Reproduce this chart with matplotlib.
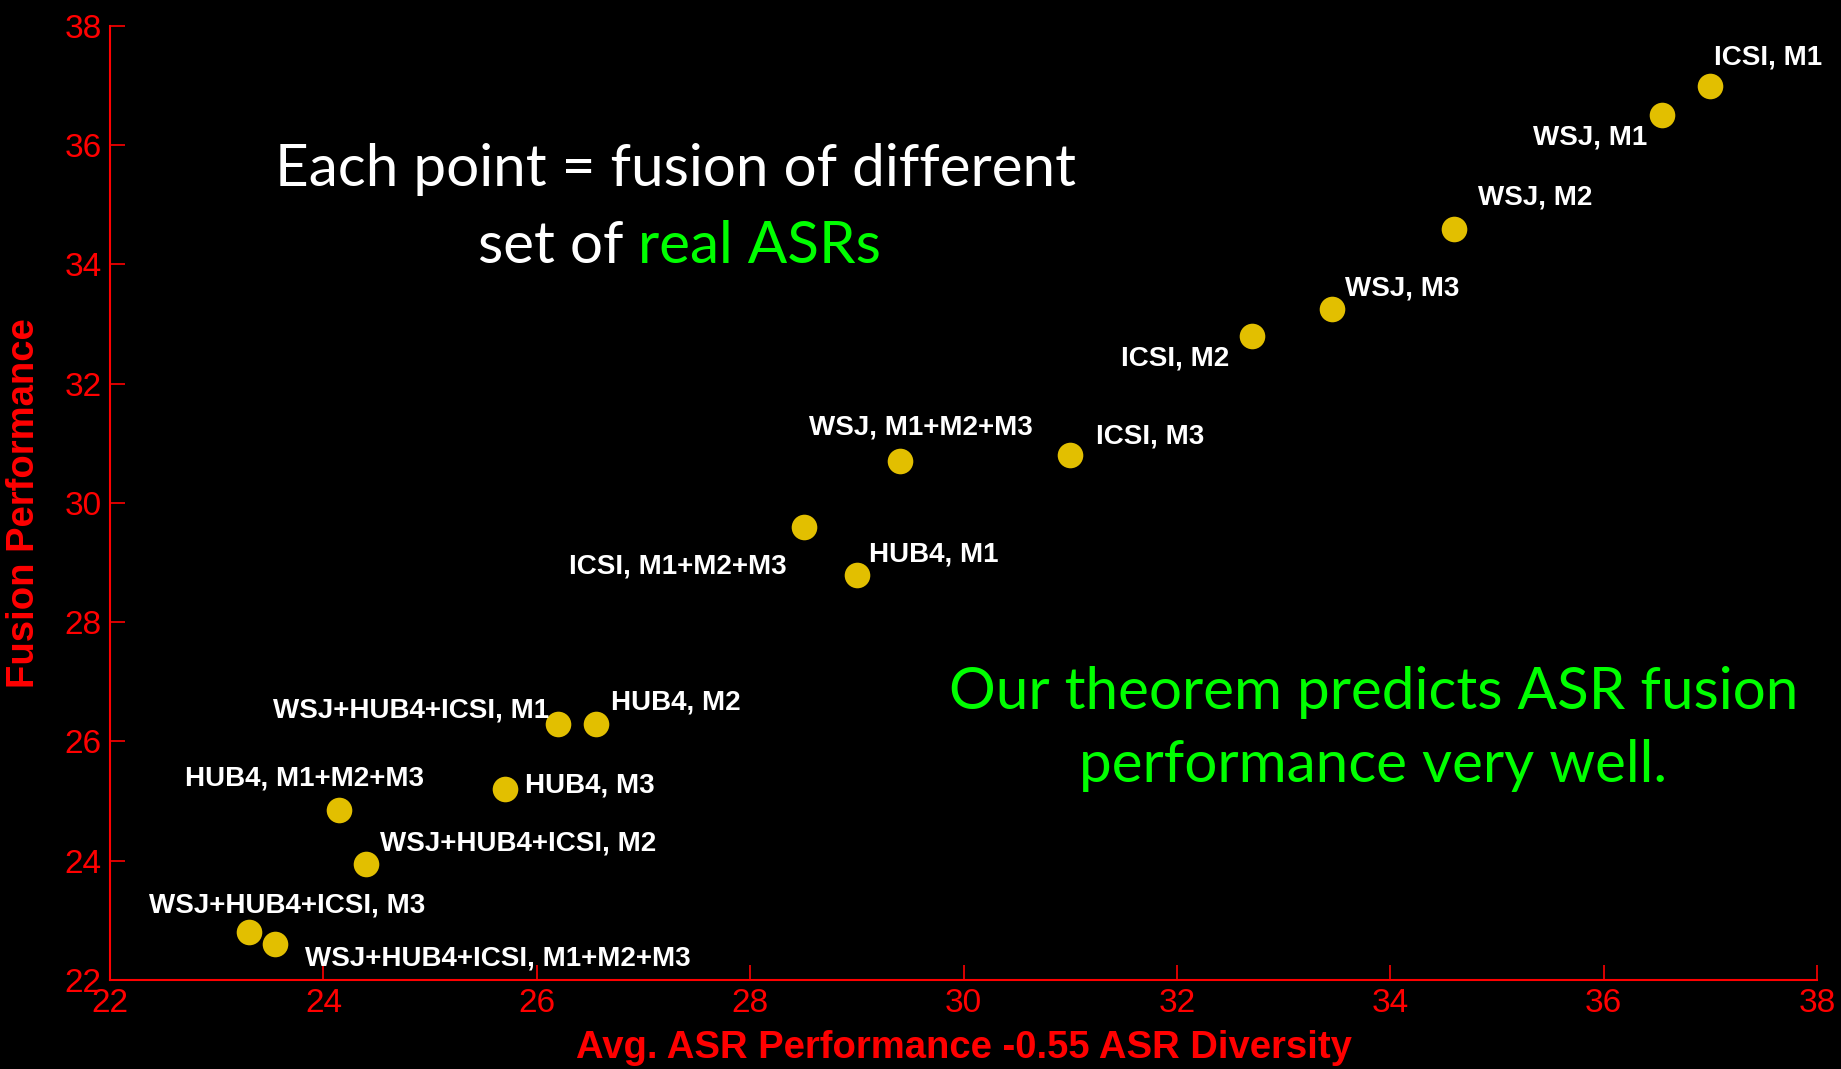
import matplotlib
matplotlib.use("Agg")
import matplotlib.pyplot as plt

# data
labels = [
    "ICSI, M1", "WSJ, M1", "WSJ, M2", "WSJ, M3", "ICSI, M2", "ICSI, M3",
    "WSJ, M1+M2+M3", "ICSI, M1+M2+M3", "HUB4, M1", "HUB4, M2",
    "WSJ+HUB4+ICSI, M1", "HUB4, M3", "HUB4, M1+M2+M3",
    "WSJ+HUB4+ICSI, M2", "WSJ+HUB4+ICSI, M3", "WSJ+HUB4+ICSI, M1+M2+M3",
]
predicted = [37.0, 36.55, 34.6, 33.45, 32.7, 31.0, 29.4, 28.5, 29.0, 26.55,
             26.2, 25.7, 24.15, 24.4, 23.3, 23.55]
fusion = [37.0, 36.5, 34.6, 33.25, 32.8, 30.8, 30.7, 29.6, 28.8, 26.3,
          26.3, 25.2, 24.85, 23.95, 22.8, 22.6]
ticks = [22, 24, 26, 28, 30, 32, 34, 36, 38]

# label placement: (ha, dx, dy) in pixels of the shrunk screenshot
label_pos = [
    ("left", 3, 24), ("right", -13, -19), ("left", 20, 27), ("left", 11, 18),
    ("right", -19, -19), ("left", 22, 16), ("left", -77, 29), ("right", -14, -34),
    ("left", 10, 17), ("left", 13, 18), ("right", -8, 11), ("left", 17, 3),
    ("left", -132, 27), ("left", 12, 17), ("left", -85, 23), ("left", 25, -12),
]

red = "#FF0000"
green = "#00FF00"
gold = "#E2BF00"
sans = ["Liberation Sans", "DejaVu Sans"]

fig = plt.figure(figsize=(18.41, 10.69), dpi=100, facecolor="black")
ax = fig.add_axes([0.0598, 0.0833, 0.9272, 0.8924])
ax.set_facecolor("black")

ax.scatter(predicted, fusion, s=340, color=gold, zorder=3, linewidths=0)

k = 0.845  # shrunk px -> points
for name, x, y, (ha, dx, dy) in zip(labels, predicted, fusion, label_pos):
    ax.annotate(name, (x, y), xytext=(dx * k, dy * k), textcoords="offset points",
                ha=ha, va="center", color="white", fontsize=20,
                fontweight="bold", family=sans)

ax.set_xlim(22, 38)
ax.set_ylim(22, 38)
ax.set_xticks(ticks)
ax.set_yticks(ticks)
for s in ["top", "right"]:
    ax.spines[s].set_visible(False)
for s in ["left", "bottom"]:
    ax.spines[s].set_color(red)
    ax.spines[s].set_linewidth(1.5)
ax.tick_params(colors=red, direction="in", length=11, width=1.2, pad=6,
               labelsize=24)
for lab in ax.get_xticklabels() + ax.get_yticklabels():
    lab.set_family(sans)

ax.set_xlabel("Avg. ASR Performance -0.55 ASR Diversity", color=red,
              fontsize=27.5, fontweight="bold", family=sans)
ax.set_ylabel("Fusion Performance", color=red, fontsize=27.5,
              fontweight="bold", family=sans)
ax.xaxis.set_label_coords(0.5, -0.052)
ax.yaxis.set_label_coords(-0.040, 0.5)

# slide annotations
fig.text(0.367, 0.841, "Each point = fusion of different", color="white",
         fontsize=42, family="Lato", ha="center", va="center")
t1 = fig.text(0.2596, 0.769, "set of ", color="white", fontsize=42,
              family="Lato", ha="left", va="center")
ax.annotate("real ASRs", xy=(1, 0), xycoords=t1, va="bottom", ha="left",
            color=green, fontsize=42, family="Lato")

fig.text(0.746, 0.318, "Our theorem predicts ASR fusion\nperformance very well.",
         color=green, fontsize=42, family="Lato", ha="center", va="center",
         linespacing=1.45)

fig.savefig("out.png", dpi=100, facecolor="black")
